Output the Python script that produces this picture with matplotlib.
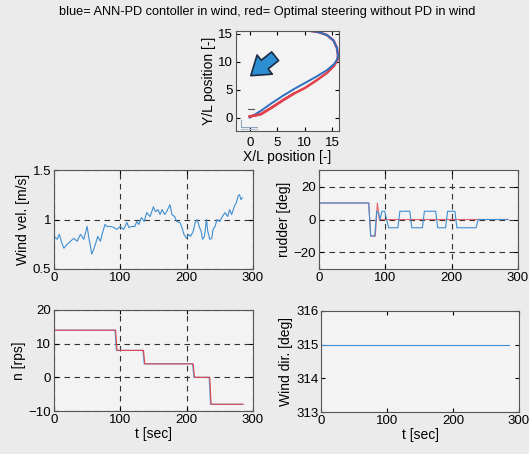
import matplotlib
matplotlib.use("Agg")
import matplotlib.pyplot as plt

plt.rcParams["font.family"] = ["Liberation Sans", "DejaVu Sans"]
plt.rcParams["font.size"] = 9

TITLE = "blue= ANN-PD contoller in wind, red= Optimal steering without PD in wind"

# trajectory (X/L, Y/L)
traj_blue_x = [0, 2, 4, 6, 8, 10, 12, 14, 15.3, 15.9, 16.0, 15.8, 15.2, 14.0, 12.5, 10.0, 8.5]
traj_blue_y = [0, 1.2, 2.6, 3.9, 5.1, 6.2, 7.3, 8.5, 9.6, 10.5, 11.2, 12.5, 13.8, 14.8, 15.3, 15.7, 15.8]
traj_red_x = [0, 2, 4, 6, 8, 10, 12, 14, 15.3, 15.9, 16.0, 15.8, 15.2, 14.0, 12.5, 10.0, 8.5]
traj_red_y = [0.2, 0.6, 1.8, 3.1, 4.3, 5.3, 6.6, 8.0, 9.3, 10.3, 11.1, 12.5, 13.8, 14.8, 15.3, 15.7, 15.8]

# wind velocity
wind_t = [0, 5, 8, 12, 15, 20, 25, 30, 35, 40, 45, 50, 53, 55, 57, 60, 63, 66, 70, 73,
          77, 80, 85, 90, 95, 100, 105, 110, 113, 118, 122, 125, 128, 132, 136, 140, 145,
          150, 153, 157, 160, 163, 167, 170, 175, 178, 182, 185, 190, 193, 196, 200, 203,
          206, 210, 213, 216, 219, 222, 224, 227, 230, 232, 235, 238, 240, 243, 246, 250,
          254, 258, 262, 265, 268, 272, 275, 278, 280, 282, 284]
wind_v = [0.83, 0.80, 0.85, 0.76, 0.71, 0.75, 0.78, 0.81, 0.78, 0.85, 0.80, 0.93, 0.80,
          0.73, 0.65, 0.70, 0.76, 0.83, 0.78, 0.86, 0.95, 0.93, 0.93, 0.92, 0.90, 0.93,
          0.90, 0.97, 0.92, 0.93, 0.93, 0.98, 0.95, 1.02, 0.98, 1.07, 1.03, 1.13, 1.08,
          1.10, 1.05, 1.10, 1.05, 1.08, 1.15, 1.05, 1.03, 0.98, 0.97, 0.92, 0.85, 0.81,
          0.85, 0.83, 0.88, 0.97, 1.00, 0.93, 0.88, 0.80, 0.83, 1.00, 0.88, 0.80, 0.81,
          0.90, 0.93, 1.00, 0.98, 1.03, 1.07, 1.03, 1.10, 1.05, 1.13, 1.17, 1.24, 1.25,
          1.20, 1.22]

# rudder angle [deg]
rud_blue_t = [0, 75, 78, 84, 87, 90, 92, 95, 99, 102, 105, 119, 122, 137, 140, 156, 159,
              176, 179, 191, 194, 205, 208, 237, 240, 285]
rud_blue_v = [10, 10, -10, -10, 5, 4, 0, 5, 5, 0, -5, -5, 5, 5, -5, -5, 5, 5, -5, -5,
              5, 5, -5, -5, 0, 0]
rud_red_t = [0, 0.5, 75, 78, 85, 88, 91, 285]
rud_red_v = [0, 10, 10, -10, -10, 10, 0, 0]

# propeller rps
n_blue_t = [0, 92, 94, 134, 136, 209, 211, 234, 236, 285]
n_red_t = [0, 93, 95, 135, 137, 210, 212, 235, 237, 285]
n_v = [14, 14, 8, 8, 4, 4, 0, 0, -8, -8]

# wind direction
wdir_t = [0, 285]
wdir_v = [315, 315]

BLUE = "#3f8fd2"
RED = "#e2404a"
FIG_BG = "#ebebeb"
AX_BG = "#f3f3f3"
TICK_FS = 9.5
LABEL_FS = 10


def style(ax, grid=True):
    ax.set_facecolor(AX_BG)
    ax.tick_params(direction="in", top=True, right=True, length=3, labelsize=TICK_FS, pad=2)
    for s in ax.spines.values():
        s.set_color("#555555")
        s.set_linewidth(0.8)
    if grid:
        ax.grid(True, color="#333333", linestyle=(0, (5, 4)), linewidth=0.8)


fig = plt.figure(figsize=(5.29, 4.54), dpi=100)
fig.patch.set_facecolor(FIG_BG)

fig.text(267 / 529, 1 - 12 / 454, TITLE, ha="center", va="center", fontsize=9.2)

# trajectory
ax = fig.add_axes([0.446, 0.7115, 0.195, 0.220])
style(ax, grid=False)
ax.plot(traj_red_x, traj_red_y, color=RED, lw=1.8)
ax.plot(traj_blue_x, traj_blue_y, color="#2e6fc0", lw=1.4)
ax.plot(traj_red_x[:5], traj_red_y[:5], color=RED, lw=1.8)
ax.plot([-0.4, 0.7], [1.55, 1.55], color="#555555", lw=0.8)
ax.plot([-1.6, -1.6, 1.4], [-0.5, -1.6, -1.6], color="#8fa8c0", lw=0.8)
ax.plot([-1.6, 1.4], [-2.0, -2.0], color="#a8c4dc", lw=0.8)
ax.annotate("", xy=(-0.2, 7.2), xytext=(5.0, 11.3),
            arrowprops=dict(arrowstyle="simple,head_length=0.8,head_width=1.1,tail_width=0.5",
                            fc="#2b8fd1", ec="#1c2a44", lw=1.2, mutation_scale=16))
ax.set_xlim(-2.5, 16.2)
ax.set_ylim(-2.4, 15.5)
ax.set_xticks([0, 5, 10, 15])
ax.set_yticks([0, 5, 10, 15])
ax.tick_params(axis="x", pad=4)
ax.set_xlabel("X/L position [-]", fontsize=LABEL_FS, labelpad=1)
ax.set_ylabel("Y/L position [-]", fontsize=LABEL_FS, labelpad=2)

# wind velocity
ax = fig.add_axes([0.102, 0.4075, 0.376, 0.218])
style(ax)
ax.plot(wind_t, wind_v, color=BLUE, lw=0.8)
ax.set_xlim(0, 300)
ax.set_ylim(0.5, 1.5)
ax.set_xticks([0, 100, 200, 300])
ax.set_yticks([0.5, 1, 1.5])
ax.set_yticklabels(["0.5", "1", "1.5"])
ax.set_ylabel("Wind vel. [m/s]", fontsize=LABEL_FS, labelpad=2)

# rudder
ax = fig.add_axes([0.603, 0.4075, 0.376, 0.218])
style(ax)
ax.plot(rud_red_t, rud_red_v, color=RED, lw=0.8, alpha=0.8)
ax.plot(rud_blue_t, rud_blue_v, color=BLUE, lw=0.8)
ax.set_xlim(0, 300)
ax.set_ylim(-30, 30)
ax.set_xticks([0, 100, 200, 300])
ax.set_yticks([-20, 0, 20])
ax.set_ylabel("rudder [deg]", fontsize=LABEL_FS, labelpad=2)

# n
ax = fig.add_axes([0.102, 0.0947, 0.376, 0.2225])
style(ax)
ax.plot(n_blue_t, n_v, color="#4fb0e0", lw=0.8)
ax.plot(n_red_t, n_v, color=RED, lw=0.8)
ax.set_xlim(0, 300)
ax.set_ylim(-10, 20)
ax.set_xticks([0, 100, 200, 300])
ax.set_yticks([-10, 0, 10, 20])
ax.set_xlabel("t [sec]", fontsize=LABEL_FS, labelpad=1)
ax.set_ylabel("n [rps]", fontsize=LABEL_FS, labelpad=2)

# wind direction
ax = fig.add_axes([0.607, 0.0925, 0.374, 0.2225])
style(ax, grid=False)
ax.plot(wdir_t, wdir_v, color=BLUE, lw=0.8)
ax.set_xlim(0, 300)
ax.set_ylim(313, 316)
ax.set_xticks([0, 100, 200, 300])
ax.set_yticks([313, 314, 315, 316])
ax.set_xlabel("t [sec]", fontsize=LABEL_FS, labelpad=1)
ax.set_ylabel("Wind dir. [deg]", fontsize=LABEL_FS, labelpad=2)

fig.savefig("out.png", dpi=100, facecolor=fig.get_facecolor())
